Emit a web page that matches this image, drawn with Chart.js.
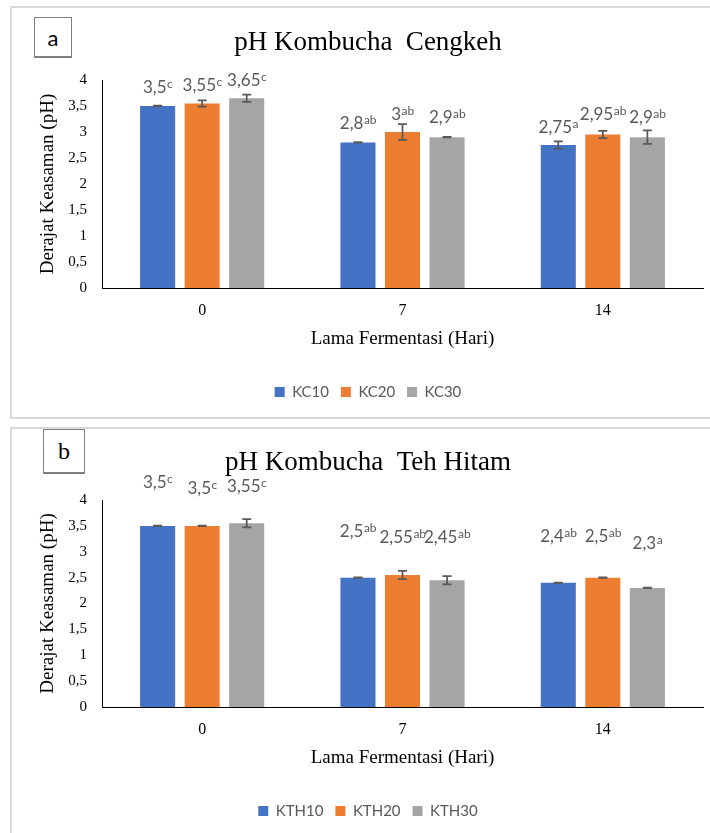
<!DOCTYPE html>
<html>
<head>
<meta charset="utf-8">
<script src="https://cdn.jsdelivr.net/npm/chart.js@4.4.1/dist/chart.umd.min.js"></script>
<style>
  html, body { margin: 0; padding: 0; background: #fff; overflow: hidden; }
  #page { position: relative; width: 710px; height: 833px; overflow: hidden; }
  .panel { position: absolute; left: 10px; width: 720px; border: 2px solid #d9d9d9; box-sizing: border-box; }
  .tag { position: absolute; border: 1px solid #808080; border-bottom-width: 2px; box-sizing: border-box;
         display: flex; align-items: center; justify-content: center; color: #000; background: #fff; }
  canvas { position: absolute; left: 0; }
</style>
</head>
<body>
<div id="page">
  <div class="panel" style="top:6px;height:413px;"></div>
  <div class="panel" style="top:427px;height:420px;"></div>
  <canvas id="chartA" width="710" height="420" style="top:0"></canvas>
  <canvas id="chartB" width="710" height="413" style="top:420px"></canvas>
  <div class="tag" style="left:34px;top:17px;width:38px;height:41px;font:22px Lato;">a</div>
  <div class="tag" style="left:43px;top:429px;width:42px;height:45px;font:24px 'Liberation Serif';">b</div>
</div>
<script>
// sumbu X (hari fermentasi)
const days = ["0", "7", "14"];

// a: kombucha cengkeh
const kcNames = ["KC10", "KC20", "KC30"];
const kc10 = [3.5, 2.8, 2.75];
const kc20 = [3.55, 3.0, 2.95];
const kc30 = [3.65, 2.9, 2.9];
const kc10Err = [0.005, 0.005, 0.07];
const kc20Err = [0.06, 0.15, 0.07];
const kc30Err = [0.07, 0.005, 0.13];
const kc10Sup = ["c", "ab", "a"];
const kc20Sup = ["c", "ab", "ab"];
const kc30Sup = ["c", "ab", "ab"];
// tinggi label (dalam satuan pH)
const kc10LabelAt = [3.875, 3.18, 3.09];
const kc20LabelAt = [3.9, 3.35, 3.34];
const kc30LabelAt = [4.0, 3.29, 3.29];

// b: kombucha teh hitam
const kthNames = ["KTH10", "KTH20", "KTH30"];
const kth10 = [3.5, 2.5, 2.4];
const kth20 = [3.5, 2.55, 2.5];
const kth30 = [3.55, 2.45, 2.3];
const kth10Err = [0.005, 0.005, 0.005];
const kth20Err = [0.005, 0.08, 0.005];
const kth30Err = [0.08, 0.08, 0.005];
const kth10Sup = ["c", "ab", "ab"];
const kth20Sup = ["c", "ab", "ab"];
const kth30Sup = ["c", "ab", "a"];
const kth10LabelAt = [4.34, 3.4, 3.31];
const kth20LabelAt = [4.23, 3.28, 3.31];
const kth30LabelAt = [4.27, 3.29, 3.16];

const colors = ["#4472C4", "#ED7D31", "#A5A5A5"];
const serif = "Liberation Serif";

// error bar
const errorBarPlugin = {
  id: "errorBars",
  afterDatasetsDraw(chart) {
    const ctx = chart.ctx;
    const y = chart.scales.y;
    ctx.save();
    ctx.strokeStyle = "#595959";
    ctx.lineWidth = 1.75;
    chart.data.datasets.forEach((ds, i) => {
      chart.getDatasetMeta(i).data.forEach((bar, j) => {
        const top = y.getPixelForValue(ds.data[j] + ds.errors[j]);
        const bot = y.getPixelForValue(ds.data[j] - ds.errors[j]);
        ctx.beginPath();
        ctx.moveTo(bar.x, top);
        ctx.lineTo(bar.x, bot);
        ctx.moveTo(bar.x - 4.5, top);
        ctx.lineTo(bar.x + 4.5, top);
        ctx.moveTo(bar.x - 4.5, bot);
        ctx.lineTo(bar.x + 4.5, bot);
        ctx.stroke();
      });
    });
    ctx.restore();
  },
};

// label nilai + huruf notasi
const notationPlugin = {
  id: "notation",
  afterDraw(chart) {
    const ctx = chart.ctx;
    const y = chart.scales.y;
    ctx.save();
    ctx.fillStyle = "#595959";
    ctx.textBaseline = "alphabetic";
    ctx.textAlign = "left";
    chart.data.datasets.forEach((ds, i) => {
      chart.getDatasetMeta(i).data.forEach((bar, j) => {
        const main = String(ds.data[j]).replace(".", ",");
        ctx.font = "17px Lato";
        const w1 = ctx.measureText(main).width;
        ctx.font = "12px Lato";
        const w2 = ctx.measureText(ds.sup[j]).width;
        const x0 = bar.x - (w1 + w2) / 2;
        const base = y.getPixelForValue(ds.labelAt[j]) + 6;
        ctx.font = "17px Lato";
        ctx.fillText(main, x0, base);
        ctx.font = "12px Lato";
        ctx.fillText(ds.sup[j], x0 + w1 + 0.5, base - 5);
      });
    });
    ctx.restore();
  },
};

function makeChart(id, title, names, series, errors, sups, levels, padBottom) {
  const datasets = names.map((name, i) => ({
    label: name,
    data: series[i],
    errors: errors[i],
    sup: sups[i],
    labelAt: levels[i],
    backgroundColor: colors[i],
    borderWidth: 0,
    categoryPercentage: 0.667,
    barPercentage: 0.787,
  }));

  return new Chart(document.getElementById(id), {
    type: "bar",
    data: { labels: days, datasets: datasets },
    plugins: [errorBarPlugin, notationPlugin],
    options: {
      responsive: false,
      animation: false,
      layout: { padding: { left: 33, right: 7, top: 0, bottom: padBottom } },
      plugins: {
        title: {
          display: true,
          text: title,
          color: "#000",
          font: { family: serif, size: 27, weight: "normal" },
          padding: { top: 27, bottom: 20.6 },
        },
        legend: {
          position: "bottom",
          labels: {
            color: "#595959",
            font: { family: "Lato", size: 15 },
            boxWidth: 10,
            boxHeight: 10,
            padding: 12,
          },
        },
        tooltip: { enabled: false },
      },
      scales: {
        x: {
          grid: { display: false, drawTicks: false },
          border: { display: true, color: "#000", width: 1 },
          ticks: { padding: 13, color: "#000", font: { family: serif, size: 16 } },
          title: {
            display: true,
            text: "Lama Fermentasi (Hari)",
            color: "#000",
            font: { family: serif, size: 19 },
            padding: { top: 0, bottom: 22 },
          },
          afterFit(scale) {
            scale.height = 84.5;
          },
        },
        y: {
          min: 0,
          max: 4,
          grid: { display: false, drawTicks: false },
          border: { display: true, color: "#000", width: 1 },
          ticks: {
            stepSize: 0.5,
            padding: 15,
            color: "#000",
            font: { family: serif, size: 15 },
            callback: (v) => String(v).replace(".", ","),
          },
          title: {
            display: true,
            text: "Derajat Keasaman (pH)",
            color: "#000",
            font: { family: serif, size: 19 },
            padding: { top: 3.6, bottom: 0 },
          },
          afterFit(scale) {
            scale.width = 69;
          },
        },
      },
    },
  });
}

makeChart(
  "chartA",
  "pH Kombucha  Cengkeh",
  kcNames,
  [kc10, kc20, kc30],
  [kc10Err, kc20Err, kc30Err],
  [kc10Sup, kc20Sup, kc30Sup],
  [kc10LabelAt, kc20LabelAt, kc30LabelAt],
  10.5
);

makeChart(
  "chartB",
  "pH Kombucha  Teh Hitam",
  kthNames,
  [kth10, kth20, kth30],
  [kth10Err, kth20Err, kth30Err],
  [kth10Sup, kth20Sup, kth30Sup],
  [kth10LabelAt, kth20LabelAt, kth30LabelAt],
  4.5
);
</script>
</body>
</html>
